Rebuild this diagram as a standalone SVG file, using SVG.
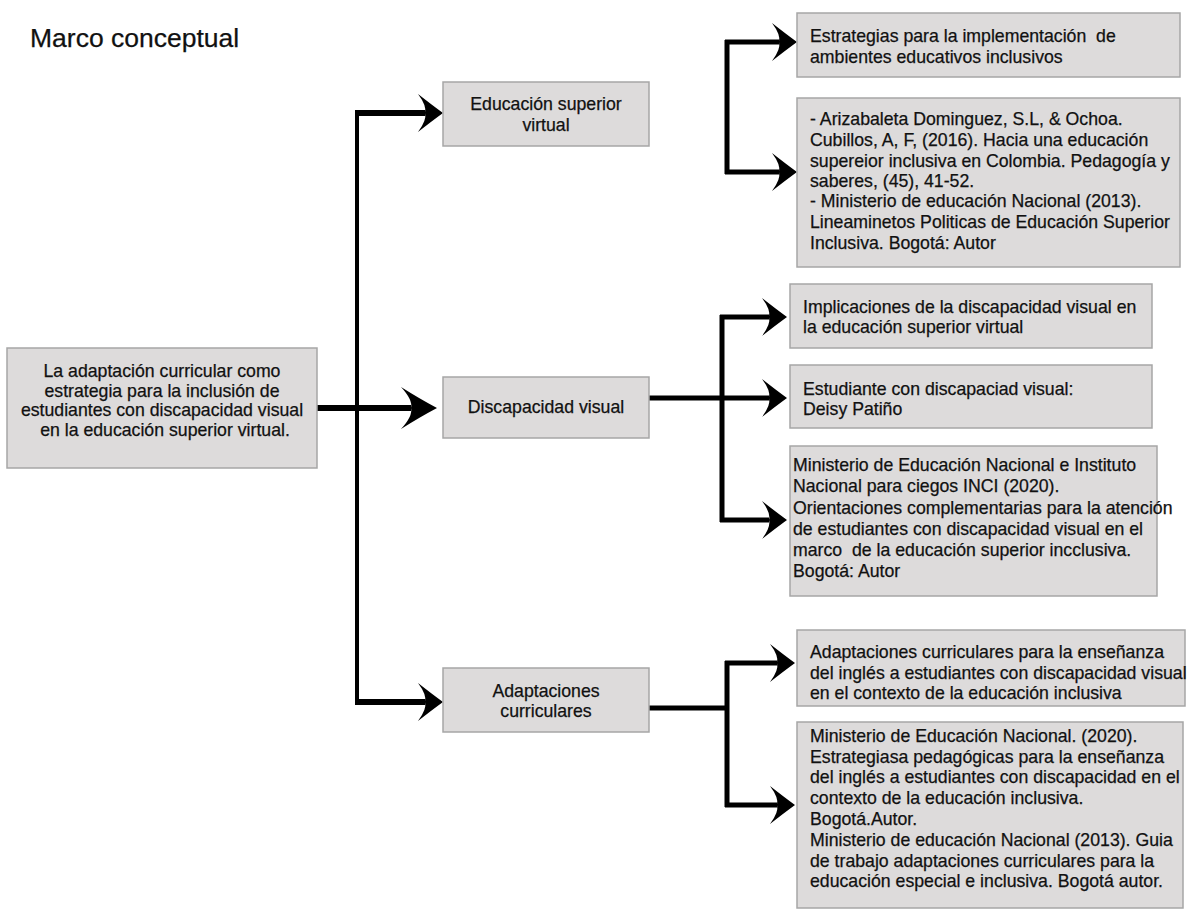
<svg xmlns="http://www.w3.org/2000/svg" width="1191" height="910" viewBox="0 0 1191 910">
<style>
.box{fill:#dddbdb;stroke:#a6a6a6;stroke-width:1.5}
text{font-family:"Liberation Sans",Arial,sans-serif;font-size:17.7px;fill:#111;stroke:#111;stroke-width:0.25}
.c{text-anchor:middle}
.title{font-size:26.5px}
.ln{fill:none;stroke:#000}
.w6{stroke-width:6}
.w5{stroke-width:5}
.w4{stroke-width:4}
</style>
<defs>
<marker id="ah" markerUnits="userSpaceOnUse" viewBox="0 -20 26 40" markerWidth="26" markerHeight="40" refX="7" refY="0" orient="auto" overflow="visible">
<path d="M25,0 Q14,-8 0,-19 Q9,-7 7,0 Q9,7 0,19 Q14,8 25,0 Z" fill="#000"/>
</marker>
<marker id="ahb" markerUnits="userSpaceOnUse" viewBox="0 -22 37 44" markerWidth="37" markerHeight="44" refX="10" refY="0" orient="auto" overflow="visible">
<path d="M36,0 Q19,-9 0,-21 Q12,-8 10,0 Q12,8 0,21 Q19,9 36,0 Z" fill="#000"/>
</marker>
</defs>

<text x="30" y="47" class="title">Marco conceptual</text>

<g id="connectors">
<path class="ln w6" d="M317,408 H411" marker-end="url(#ahb)"/>
<path class="ln w4" d="M357,110 V705"/>
<path class="ln w6" d="M355,113 H425" marker-end="url(#ah)"/>
<path class="ln w6" d="M355,702 H425" marker-end="url(#ah)"/>

<path class="ln w5" d="M727,40 V174"/>
<path class="ln w5" d="M725,42 H779" marker-end="url(#ah)"/>
<path class="ln w5" d="M725,172 H779" marker-end="url(#ah)"/>

<path class="ln w5" d="M649,398 H769" marker-end="url(#ah)"/>
<path class="ln w5" d="M722,315 V522"/>
<path class="ln w5" d="M720,317 H769" marker-end="url(#ah)"/>
<path class="ln w5" d="M720,520 H769" marker-end="url(#ah)"/>

<path class="ln w5" d="M649,708 H729"/>
<path class="ln w5" d="M727,661 V807"/>
<path class="ln w5" d="M725,663 H777" marker-end="url(#ah)"/>
<path class="ln w5" d="M725,805 H777" marker-end="url(#ah)"/>
</g>

<g id="root">
<rect class="box" x="7" y="348" width="310" height="120"/>
<text class="c" x="162" y="377">La adaptación curricular como</text>
<text class="c" x="162" y="397">estrategia para la inclusión de</text>
<text class="c" x="162" y="416">estudiantes con discapacidad visual</text>
<text class="c" x="165" y="436">en la educación superior virtual.</text>
</g>

<g id="edu-sup">
<rect class="box" x="443" y="82" width="206" height="64"/>
<text class="c" x="546" y="110">Educación superior</text>
<text class="c" x="546" y="131">virtual</text>
</g>

<g id="discapacidad">
<rect class="box" x="443" y="377" width="206" height="61"/>
<text class="c" x="546" y="413">Discapacidad visual</text>
</g>

<g id="adaptaciones">
<rect class="box" x="443" y="668" width="206" height="64"/>
<text class="c" x="546" y="697">Adaptaciones</text>
<text class="c" x="546" y="717">curriculares</text>
</g>

<g id="r1">
<rect class="box" x="797" y="13" width="383" height="64"/>
<text x="810" y="42" xml:space="preserve">Estrategias para la implementación  de</text>
<text x="810" y="63">ambientes educativos inclusivos</text>
</g>

<g id="r2">
<rect class="box" x="797" y="98" width="383" height="169"/>
<text x="810" y="125">- Arizabaleta Dominguez, S.L, &amp; Ochoa.</text>
<text x="810" y="146">Cubillos, A, F, (2016). Hacia una educación</text>
<text x="810" y="167">supereior inclusiva en Colombia. Pedagogía y</text>
<text x="810" y="187">saberes, (45), 41-52.</text>
<text x="810" y="207">- Ministerio de educación Nacional (2013).</text>
<text x="810" y="228">Lineaminetos Politicas de Educación Superior</text>
<text x="810" y="249">Inclusiva. Bogotá: Autor</text>
</g>

<g id="r3">
<rect class="box" x="790" y="284" width="362" height="64"/>
<text x="803" y="313">Implicaciones de la discapacidad visual en</text>
<text x="803" y="333">la educación superior virtual</text>
</g>

<g id="r4">
<rect class="box" x="790" y="365" width="362" height="63"/>
<text x="803" y="395">Estudiante con discapaciad visual:</text>
<text x="803" y="415">Deisy Patiño</text>
</g>

<g id="r5">
<rect class="box" x="790" y="446" width="367" height="150"/>
<text x="793" y="471">Ministerio de Educación Nacional e Instituto</text>
<text x="793" y="492">Nacional para ciegos INCI (2020).</text>
<text x="793" y="514">Orientaciones complementarias para la atención</text>
<text x="793" y="535">de estudiantes con discapacidad visual en el</text>
<text x="793" y="556" xml:space="preserve">marco  de la educación superior incclusiva.</text>
<text x="793" y="577">Bogotá: Autor</text>
</g>

<g id="r6">
<rect class="box" x="797" y="630" width="388" height="76"/>
<text x="810" y="658">Adaptaciones curriculares para la enseñanza</text>
<text x="810" y="679">del inglés a estudiantes con discapacidad visual</text>
<text x="810" y="699">en el contexto de la educación inclusiva</text>
</g>

<g id="r7">
<rect class="box" x="797" y="722" width="386" height="186"/>
<text x="810" y="742">Ministerio de Educación Nacional. (2020).</text>
<text x="810" y="763">Estrategiasa pedagógicas para la enseñanza</text>
<text x="810" y="783">del inglés a estudiantes con discapacidad en el</text>
<text x="810" y="804">contexto de la educación inclusiva.</text>
<text x="810" y="825">Bogotá.Autor.</text>
<text x="810" y="846">Ministerio de educación Nacional (2013). Guia</text>
<text x="810" y="867">de trabajo adaptaciones curriculares para la</text>
<text x="810" y="887">educación especial e inclusiva. Bogotá autor.</text>
</g>
</svg>
